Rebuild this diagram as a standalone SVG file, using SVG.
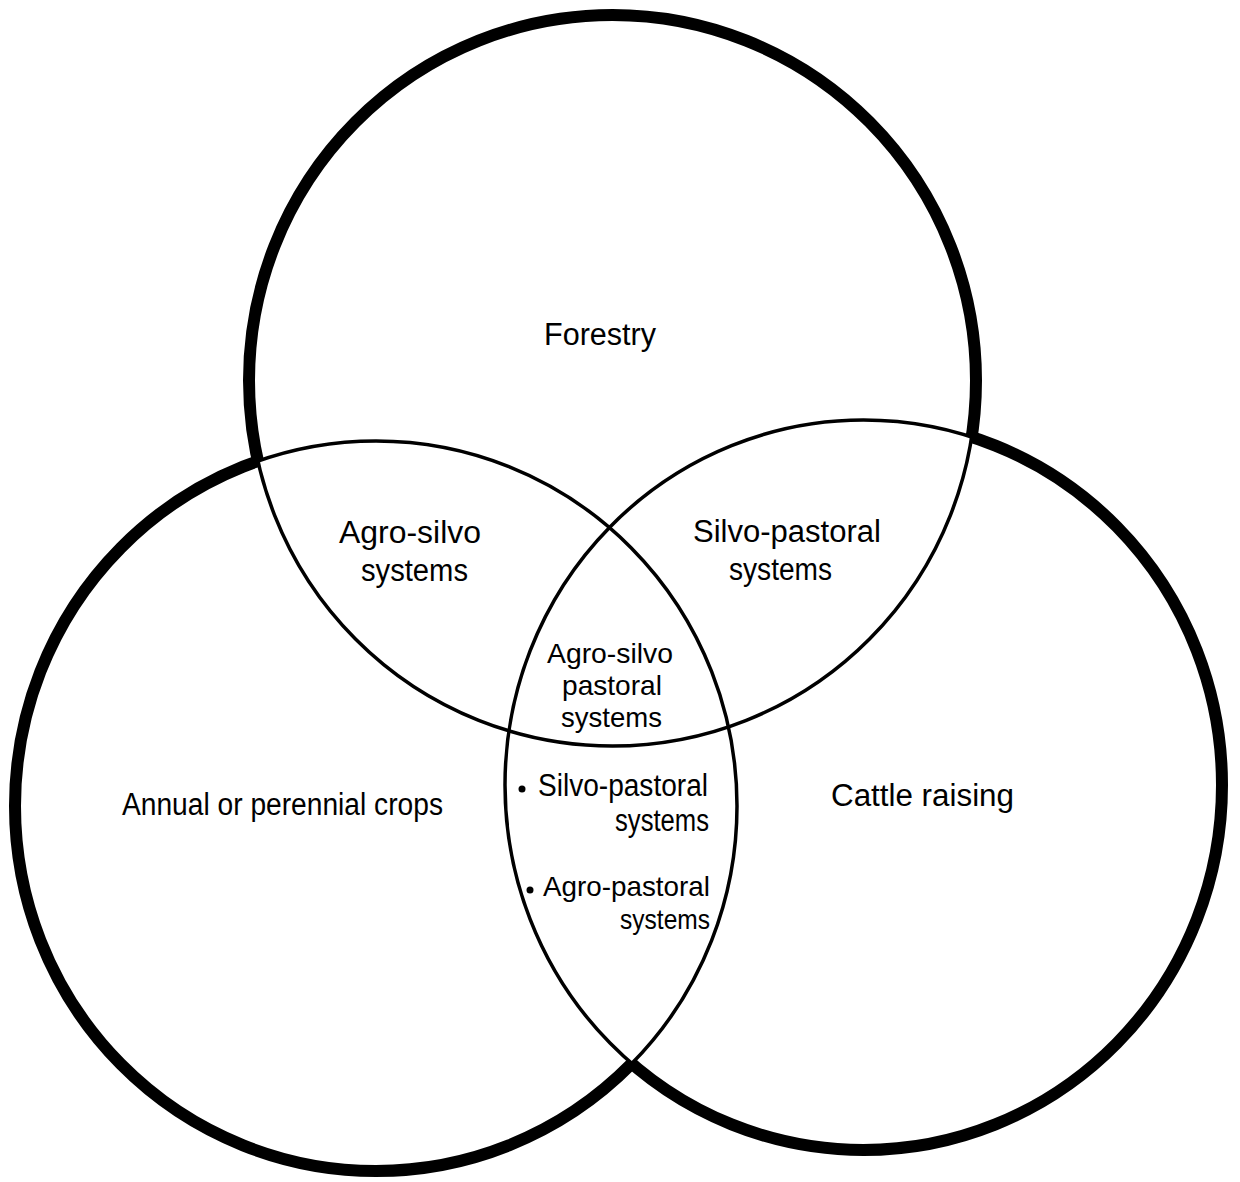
<svg xmlns="http://www.w3.org/2000/svg" width="1240" height="1182" viewBox="0 0 1240 1182">
  <style>
    .thin { fill: none; stroke: #000; stroke-width: 3.5; }
    .thick { fill: none; stroke: #000; stroke-width: 12; }
    .lbl { font-family: "Liberation Sans", Arial, sans-serif; font-size: 31px; fill: #000; }
    .sm { font-size: 28px; }
    .dot { fill: #000; }
  </style>
  <defs>
    <ellipse id="e-top" cx="612.5" cy="380.5" rx="363.5" ry="365.5"/>
    <ellipse id="e-left" cx="376" cy="806" rx="361" ry="365"/>
    <ellipse id="e-right" cx="863.5" cy="785" rx="358.5" ry="365"/>
    <mask id="m-top" maskUnits="userSpaceOnUse" x="0" y="0" width="1240" height="1182">
      <rect x="0" y="0" width="1240" height="1182" fill="#fff"/>
      <use href="#e-left" fill="#000"/>
      <use href="#e-right" fill="#000"/>
    </mask>
    <mask id="m-left" maskUnits="userSpaceOnUse" x="0" y="0" width="1240" height="1182">
      <rect x="0" y="0" width="1240" height="1182" fill="#fff"/>
      <use href="#e-top" fill="#000"/>
      <use href="#e-right" fill="#000"/>
    </mask>
    <mask id="m-right" maskUnits="userSpaceOnUse" x="0" y="0" width="1240" height="1182">
      <rect x="0" y="0" width="1240" height="1182" fill="#fff"/>
      <use href="#e-top" fill="#000"/>
      <use href="#e-left" fill="#000"/>
    </mask>
  </defs>
  <rect x="0" y="0" width="1240" height="1182" fill="#fff"/>

  <g id="circle-forestry">
    <use href="#e-top" class="thin"/>
    <use href="#e-top" class="thick" mask="url(#m-top)"/>
    <text class="lbl" x="544" y="345" textLength="112" lengthAdjust="spacingAndGlyphs">Forestry</text>
  </g>
  <g id="circle-crops">
    <use href="#e-left" class="thin"/>
    <use href="#e-left" class="thick" mask="url(#m-left)"/>
    <text class="lbl" x="122" y="815" textLength="321" lengthAdjust="spacingAndGlyphs">Annual or perennial crops</text>
  </g>
  <g id="circle-cattle">
    <use href="#e-right" class="thin"/>
    <use href="#e-right" class="thick" mask="url(#m-right)"/>
    <text class="lbl" x="831" y="806" textLength="183" lengthAdjust="spacingAndGlyphs">Cattle  raising</text>
  </g>

  <g id="region-agro-silvo">
    <text class="lbl" x="339" y="543" textLength="142" lengthAdjust="spacingAndGlyphs">Agro-silvo</text>
    <text class="lbl" x="361" y="581" textLength="107" lengthAdjust="spacingAndGlyphs">systems</text>
  </g>
  <g id="region-silvo-pastoral">
    <text class="lbl" x="693" y="542" textLength="188" lengthAdjust="spacingAndGlyphs">Silvo-pastoral</text>
    <text class="lbl" x="729" y="580" textLength="103" lengthAdjust="spacingAndGlyphs">systems</text>
  </g>
  <g id="region-agro-silvo-pastoral">
    <text class="lbl sm" x="547" y="663" textLength="126" lengthAdjust="spacingAndGlyphs">Agro-silvo</text>
    <text class="lbl sm" x="562" y="695" textLength="100" lengthAdjust="spacingAndGlyphs">pastoral</text>
    <text class="lbl sm" x="561" y="727" textLength="101" lengthAdjust="spacingAndGlyphs">systems</text>
  </g>
  <g id="region-crops-cattle">
    <circle class="dot" cx="522" cy="789" r="3.5"/>
    <text class="lbl" x="538" y="796" textLength="170" lengthAdjust="spacingAndGlyphs">Silvo-pastoral</text>
    <text class="lbl" x="615" y="831" textLength="94" lengthAdjust="spacingAndGlyphs">systems</text>
    <circle class="dot" cx="530" cy="890" r="3.5"/>
    <text class="lbl sm" x="543" y="896" textLength="167" lengthAdjust="spacingAndGlyphs">Agro-pastoral</text>
    <text class="lbl sm" x="620" y="929" textLength="90" lengthAdjust="spacingAndGlyphs">systems</text>
  </g>
</svg>
